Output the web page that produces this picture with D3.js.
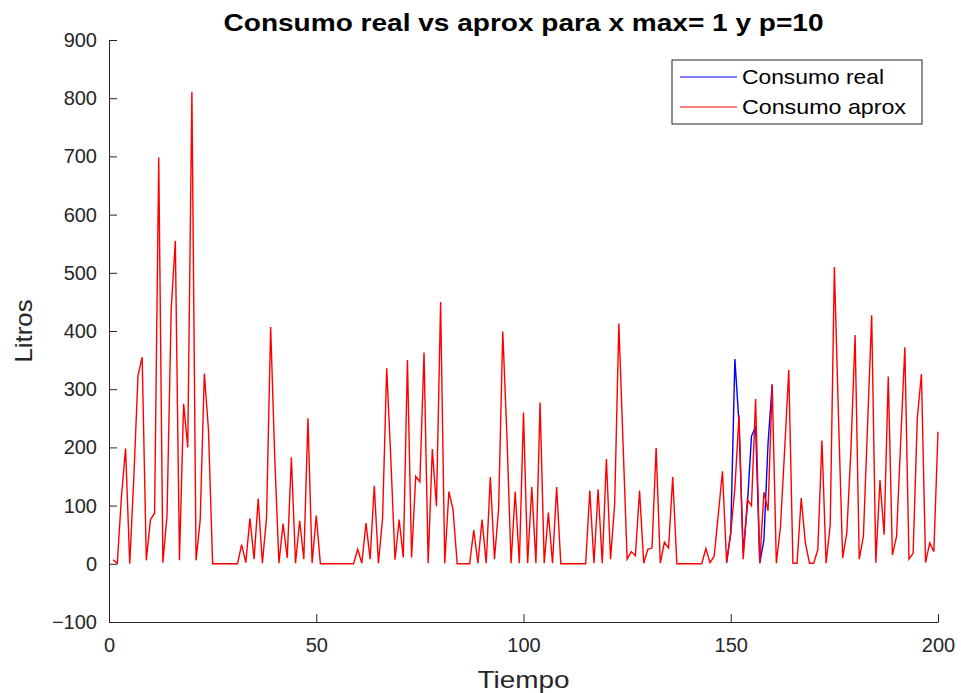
<!DOCTYPE html>
<html>
<head>
<meta charset="utf-8">
<script src="https://cdn.jsdelivr.net/npm/d3@7"></script>
<style>
  html, body { margin: 0; padding: 0; background: #fff; }
  svg { display: block; }
  text { font-family: "Liberation Sans", Arial, Helvetica, sans-serif; }
</style>
</head>
<body>
<svg id="chart" width="963" height="693"></svg>
<script>
// ---- data ----
const title = "Consumo real vs aprox para x max= 1 y p=10";
const xLabel = "Tiempo";
const yLabel = "Litros";
const seriesNames = ["Consumo real", "Consumo aprox"];
const xTicks = [0, 50, 100, 150, 200];
const yTicks = [-100, 0, 100, 200, 300, 400, 500, 600, 700, 800, 900];

// Consumo aprox, t = 1..200
const aproxStart = 1;
const aproxValues = [
  7, 1, 115, 198, 0, 150, 324, 355, 6, 76,
  87, 698, 2, 83, 436, 555, 6, 275, 200, 811,
  6, 75, 327, 230, 0, 0, 0, 0, 0, 0,
  0, 33, 2, 78, 8, 112, 1, 78, 407, 180,
  1, 69, 10, 183, 1, 74, 8, 250, 1, 83,
  0, 0, 0, 0, 0, 0, 0, 0, 0, 25,
  1, 70, 8, 134, 1, 78, 336, 179, 7, 76,
  11, 350, 11, 150, 141, 363, 1, 197, 99, 450,
  1, 124, 93, 0, 0, 0, 0, 58, 1, 76,
  1, 149, 8, 95, 399, 220, 1, 124, 1, 260,
  1, 132, 1, 277, 1, 88, 1, 132, 0, 0,
  0, 0, 0, 0, 0, 126, 1, 128, 1, 180,
  8, 103, 413, 210, 8, 21, 14, 126, 1, 25,
  27, 199, 1, 37, 27, 149, 0, 0, 0, 0,
  0, 0, 0, 26, 2, 13, 85, 159, 2, 53,
  130, 255, 8, 110, 100, 283, 1, 123, 91, 308,
  1, 64, 195, 333, 1, 1, 113, 36, 1, 1,
  24, 212, 1, 67, 510, 250, 10, 53, 197, 393,
  8, 47, 236, 427, 2, 144, 50, 322, 15, 47,
  210, 372, 8, 18, 250, 326, 2, 36, 21, 227
];

// Consumo real (visible where it differs from the approximation), t = 149..160
const realStart = 149;
const realValues = [2, 53, 352, 240, 18, 100, 219, 236, 1, 41, 207, 308];

const colors = ["#0000ff", "#ff0000"];

// ---- chart ----
const svg = d3.select("#chart");
const axisColor = "#262626";
const m = { left: 109, right: 938, top: 40, bottom: 622 };

const x = d3.scaleLinear().domain([0, 200]).range([m.left, m.right]);
const y = d3.scaleLinear().domain([-100, 900]).range([m.bottom, m.top]);

// axes (ticks point inward, MATLAB style)
const yAxis = d3.axisLeft(y).tickValues(yTicks).tickSizeInner(-8).tickSizeOuter(0).tickPadding(12);
const xAxis = d3.axisBottom(x).tickValues(xTicks).tickSizeInner(-8).tickSizeOuter(0).tickPadding(16);

const gy = svg.append("g").attr("transform", `translate(${m.left},0)`).call(yAxis);
const gx = svg.append("g").attr("transform", `translate(0,${m.bottom})`).call(xAxis);
[gx, gy].forEach(g => {
  g.select(".domain").attr("stroke", axisColor).attr("stroke-width", 1);
  g.selectAll(".tick line").attr("stroke", axisColor).attr("stroke-width", 1);
  g.selectAll(".tick text").attr("fill", axisColor).style("font-size", "20px")
    .style("font-family", "'Liberation Sans', Arial, sans-serif");
});

// lines
const line = d3.line().x(d => x(d.t)).y(d => y(d.v));
const aprox = aproxValues.map((v, i) => ({ t: aproxStart + i, v }));
const real = realValues.map((v, i) => ({ t: realStart + i, v }));

svg.append("path").datum(real).attr("d", line)
  .attr("fill", "none").attr("stroke", colors[0]).attr("stroke-width", 1.4);
svg.append("path").datum(aprox).attr("d", line)
  .attr("fill", "none").attr("stroke", colors[1]).attr("stroke-width", 1.4);

// title and labels
svg.append("text").attr("x", (m.left + m.right) / 2).attr("y", 31)
  .attr("text-anchor", "middle").attr("fill", "#000")
  .attr("textLength", 600).attr("lengthAdjust", "spacingAndGlyphs")
  .style("font-size", "23px").style("font-weight", "bold").text(title);

svg.append("text").attr("x", (m.left + m.right) / 2).attr("y", 688)
  .attr("text-anchor", "middle").attr("fill", axisColor)
  .attr("textLength", 92).attr("lengthAdjust", "spacingAndGlyphs")
  .style("font-size", "24px").text(xLabel);

svg.append("text").attr("transform", `translate(32,${(m.top + m.bottom) / 2}) rotate(-90)`)
  .attr("text-anchor", "middle").attr("fill", axisColor)
  .attr("textLength", 63).attr("lengthAdjust", "spacingAndGlyphs")
  .style("font-size", "24px").text(yLabel);

// legend
const legendWidths = [142, 164];
const lg = svg.append("g").attr("transform", "translate(672,60)");
lg.append("rect").attr("width", 250).attr("height", 64)
  .attr("fill", "#fff").attr("stroke", axisColor).attr("stroke-width", 1);
seriesNames.forEach((name, i) => {
  const yy = 17 + i * 30;
  lg.append("line").attr("x1", 8).attr("x2", 65).attr("y1", yy).attr("y2", yy)
    .attr("stroke", colors[i]).attr("stroke-width", 1.2);
  lg.append("text").attr("x", 70).attr("y", yy + 7).attr("fill", "#000")
    .attr("textLength", legendWidths[i]).attr("lengthAdjust", "spacingAndGlyphs")
    .style("font-size", "21px").text(name);
});
</script>
</body>
</html>
